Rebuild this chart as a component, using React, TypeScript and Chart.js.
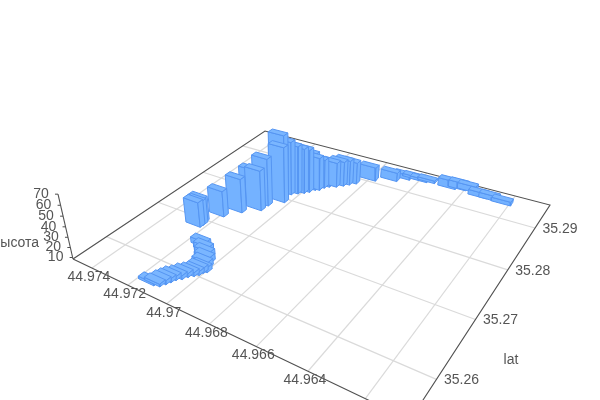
import React, { useEffect, useRef } from "react";
import { Chart, registerables } from "chart.js";

Chart.register(...registerables);

// ---- data ----
const lonTicks = [44.974, 44.972, 44.97, 44.968, 44.966, 44.964, 44.962];
const lonLabelTicks = [44.974, 44.972, 44.97, 44.968, 44.966, 44.964];
const latTicks = [35.26, 35.27, 35.28, 35.29];
const heightTicks = [10, 20, 30, 40, 50, 60, 70];

const pointLon = [
  44.97152, 44.97128, 44.97117, 44.97109, 44.97101, 44.97085, 44.97074, 44.97058, 44.97046, 44.97041,
  44.97031, 44.97045, 44.97059, 44.97081, 44.97106, 44.97137,
  44.97256, 44.97255, 44.97262, 44.97219, 44.97171, 44.97152, 44.97109, 44.97105, 44.97059, 44.97088,
  44.9707, 44.97048, 44.97027, 44.97012, 44.96999, 44.96983, 44.96973, 44.96958, 44.96931, 44.96908, 44.9689, 44.96868,
  44.96808, 44.96723, 44.9668, 44.96643, 44.96605, 44.96572, 44.96475, 44.96432, 44.96393, 44.96335, 44.96288, 44.96232,
];
const pointLat = [
  35.25631, 35.25655, 35.25722, 35.25783, 35.25845, 35.25898, 35.25967, 35.2602, 35.26068, 35.26125,
  35.26161, 35.26233, 35.26326, 35.26407, 35.26482, 35.26543,
  35.26871, 35.2693, 35.26984, 35.27233, 35.27442, 35.27661, 35.2762, 35.27769, 35.27955, 35.2809,
  35.28178, 35.28245, 35.28304, 35.28364, 35.28453, 35.28482, 35.28567, 35.28627, 35.28677, 35.28752, 35.2882, 35.28895,
  35.29102, 35.29242, 35.29365, 35.29434, 35.29421, 35.2945, 35.29439, 35.29478, 35.29495, 35.29416, 35.29415, 35.29401,
];
const pointHeight = [
  11, 11, 12, 12, 12, 12, 12, 12, 12, 13,
  13, 14, 14, 14, 14, 14,
  33, 32, 32, 34, 42, 45, 48, 55, 63, 69,
  61, 56, 53, 51, 45, 41, 37, 34, 33, 33, 33, 30,
  22, 17, 13, 11, 11, 11, 16, 15, 14, 13, 13, 12,
];

// ---- axis extents and camera ----
const lonMax = 44.97513;
const lonMin = 44.96058;
const latMin = 35.25422;
const latMax = 35.29627;
const heightMin = 8.5;
const heightMax = 70;
const barLon = 0.0008;
const barLat = 0.001;

const cornerL = [73, 259];
const cornerF = [410, 420];
const cornerR = [550, 205];
const cornerB = [265, 131];
const verticalVanish = [300, 1240];
const verticalGain = -0.062;

function buildProjection() {
  const [x0, y0] = cornerL;
  const [x1, y1] = cornerF;
  const [x2, y2] = cornerR;
  const [x3, y3] = cornerB;
  const dx1 = x1 - x2, dx2 = x3 - x2, sx = x0 - x1 + x2 - x3;
  const dy1 = y1 - y2, dy2 = y3 - y2, sy = y0 - y1 + y2 - y3;
  const den = dx1 * dy2 - dx2 * dy1;
  const g = (sx * dy2 - dx2 * sy) / den;
  const h = (dx1 * sy - sx * dy1) / den;
  const a1 = x1 - x0 + g * x1, b1 = x3 - x0 + h * x3;
  const a2 = y1 - y0 + g * y1, b2 = y3 - y0 + h * y3;
  return (lon: number, lat: number, z: number) => {
    const s = (lonMax - lon) / (lonMax - lonMin);
    const t = (lat - latMin) / (latMax - latMin);
    const u = ((z - heightMin) / (heightMax - heightMin)) * verticalGain;
    const w = 1 + g * s + h * t + u;
    return {
      x: (a1 * s + b1 * t + x0 + u * verticalVanish[0]) / w,
      y: (a2 * s + b2 * t + y0 + u * verticalVanish[1]) / w,
      w,
    };
  };
}
const project = buildProjection();

const FACE_TOP = "#7ab6ff";
const FACE_FRONT = "#74b2ff";
const FACE_SIDE = "#74b2ff";
const EDGE = "#5595f2";
const GRID = "#dadada";
const AXIS = "#505050";
const TEXT = "#555555";

function lineSet(pts: { x: number; y: number }[], color: string, width: number) {
  return { data: pts, showLine: true, fill: false, borderColor: color, borderWidth: width, pointRadius: 0 };
}
function faceSet(pts: { x: number; y: number }[], color: string) {
  return {
    data: [...pts, pts[0]],
    showLine: true,
    fill: "shape",
    backgroundColor: color,
    borderColor: EDGE,
    borderWidth: 1,
    pointRadius: 0,
  };
}

function buildDatasets() {
  const back: any[] = [];
  lonTicks.forEach((lon) => back.push(lineSet([project(lon, latMin, heightMin), project(lon, latMax, heightMin)], GRID, 1.2)));
  latTicks.forEach((lat) => back.push(lineSet([project(lonMax, lat, heightMin), project(lonMin, lat, heightMin)], GRID, 1.2)));
  const e = (a: number, b: number) => project(a, b, heightMin);
  back.push(lineSet([e(lonMax, latMin), e(lonMax, latMax), e(lonMin, latMax), e(lonMin, latMin), e(lonMax, latMin)], AXIS, 1.1));
  back.push(lineSet([project(lonMax, latMin, heightMin), project(lonMax, latMin, heightMax)], AXIS, 1.1));
  heightTicks.forEach((z) => {
    const p = project(lonMax, latMin, z);
    back.push(lineSet([p, { x: p.x - 3, y: p.y }], AXIS, 1));
  });

  const order = pointLon
    .map((_, i) => i)
    .sort((a, b) => project(pointLon[b], pointLat[b], heightMin).w - project(pointLon[a], pointLat[a], heightMin).w);

  const bars: any[] = [];
  order.forEach((i) => {
    const lo = pointLon[i] - barLon / 2;
    const hi = pointLon[i] + barLon / 2;
    const la = pointLat[i] - barLat / 2;
    const lb = pointLat[i] + barLat / 2;
    const z0 = heightMin;
    const z1 = pointHeight[i];
    bars.push(faceSet([project(hi, la, z0), project(lo, la, z0), project(lo, la, z1), project(hi, la, z1)], FACE_FRONT));
    bars.push(faceSet([project(lo, la, z0), project(lo, lb, z0), project(lo, lb, z1), project(lo, la, z1)], FACE_SIDE));
    bars.push(faceSet([project(hi, la, z1), project(lo, la, z1), project(lo, lb, z1), project(hi, lb, z1)], FACE_TOP));
  });
  // Chart.js paints the first dataset last
  return [...back, ...bars].reverse();
}

const axisLabels = {
  id: "axisLabels",
  afterDatasetsDraw(chart: any) {
    const { ctx, scales } = chart;
    const put = (text: string, x: number, y: number) => {
      ctx.fillText(text, scales.x.getPixelForValue(x), scales.y.getPixelForValue(y));
    };
    ctx.save();
    ctx.font = '14px "Liberation Sans", Arial, sans-serif';
    ctx.fillStyle = TEXT;
    ctx.textAlign = "center";
    ctx.textBaseline = "middle";
    lonLabelTicks.forEach((lon) => {
      const p = project(lon, latMin, heightMin);
      put(String(lon), p.x - 3, p.y + 9);
    });
    latTicks.forEach((lat) => {
      const p = project(lonMin, lat, heightMin);
      put(String(lat), p.x + 25, p.y + 1);
    });
    heightTicks.forEach((z) => {
      const p = project(lonMax, latMin, z);
      put(String(z), p.x - 17, p.y);
    });
    put("высота", 16, 243);
    put("lat", 511, 360);
    ctx.restore();
  },
};

export default function App() {
  const ref = useRef<HTMLCanvasElement>(null);
  useEffect(() => {
    const chart = new Chart(ref.current!, {
      type: "scatter",
      data: { datasets: buildDatasets() },
      options: {
        animation: false,
        responsive: false,
        devicePixelRatio: 1,
        layout: { padding: 0 },
        plugins: { legend: { display: false }, tooltip: { enabled: false } },
        scales: {
          x: { type: "linear", min: 0, max: 600, display: false },
          y: { type: "linear", min: 0, max: 400, reverse: true, display: false },
        },
      },
      plugins: [axisLabels],
    } as any);
    return () => chart.destroy();
  }, []);
  return (
    <div style={{ position: "fixed", left: 0, top: 0, width: 600, height: 400, background: "#fff" }}>
      <canvas ref={ref} width={600} height={400} style={{ display: "block" }} />
    </div>
  );
}
